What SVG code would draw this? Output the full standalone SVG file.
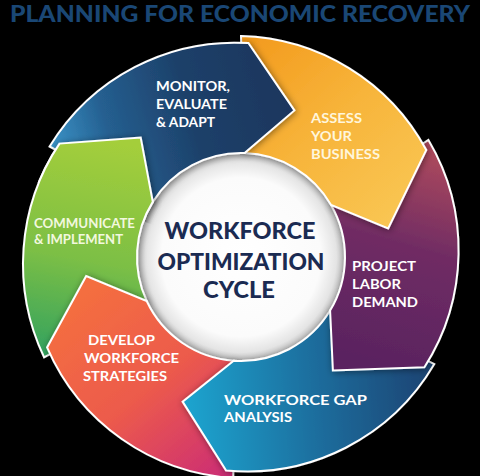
<svg xmlns="http://www.w3.org/2000/svg" xmlns:xlink="http://www.w3.org/1999/xlink" width="480" height="476" viewBox="0 0 480 476">
<defs>
<style>
.seg{stroke:#ffffff;stroke-width:2;stroke-linejoin:miter;filter:url(#sh)}
.lbl{font-family:Lato,"Open Sans","Liberation Sans",sans-serif;font-weight:700;font-size:14px;fill:#ffffff}
.ctr{font-family:Lato,"Open Sans","Liberation Sans",sans-serif;font-weight:900;font-size:23px;fill:#1b2b52;text-anchor:middle}
.ttl{font-family:Lato,"Open Sans","Liberation Sans",sans-serif;font-weight:900;font-size:22px;fill:#1a4775}
</style>
<filter id="sh" x="-20%" y="-20%" width="140%" height="140%">
<feDropShadow dx="1" dy="1" stdDeviation="3.5" flood-color="#000" flood-opacity="0.45"/>
</filter>
<linearGradient id="gNavy" gradientUnits="userSpaceOnUse" x1="55" y1="165" x2="290" y2="100">
<stop offset="0" stop-color="#3a94c8"/><stop offset="0.25" stop-color="#255f90"/><stop offset="0.6" stop-color="#1d4069"/><stop offset="1" stop-color="#1a365e"/>
</linearGradient>
<linearGradient id="gYellow" gradientUnits="userSpaceOnUse" x1="250" y1="40" x2="400" y2="210">
<stop offset="0" stop-color="#f39b1e"/><stop offset="0.5" stop-color="#f7b43a"/><stop offset="1" stop-color="#f9c552"/>
</linearGradient>
<linearGradient id="gPurple" gradientUnits="userSpaceOnUse" x1="430" y1="150" x2="370" y2="360">
<stop offset="0" stop-color="#ad4a5c"/><stop offset="0.45" stop-color="#702c64"/><stop offset="1" stop-color="#5a2360"/>
</linearGradient>
<linearGradient id="gTeal" gradientUnits="userSpaceOnUse" x1="430" y1="380" x2="190" y2="400">
<stop offset="0" stop-color="#1d4473"/><stop offset="0.5" stop-color="#1b6f9f"/><stop offset="1" stop-color="#1ea2cd"/>
</linearGradient>
<linearGradient id="gOrange" gradientUnits="userSpaceOnUse" x1="90" y1="290" x2="235" y2="468">
<stop offset="0" stop-color="#f46e40"/><stop offset="0.5" stop-color="#ec5a4c"/><stop offset="1" stop-color="#cc2d74"/>
</linearGradient>
<linearGradient id="gGreen" gradientUnits="userSpaceOnUse" x1="100" y1="140" x2="60" y2="355">
<stop offset="0" stop-color="#a4ce3b"/><stop offset="0.55" stop-color="#7cbf45"/><stop offset="1" stop-color="#35a35e"/>
</linearGradient>
<radialGradient id="gCenter" cx="241" cy="257" r="106" gradientUnits="userSpaceOnUse">
<stop offset="0" stop-color="#ffffff"/><stop offset="0.75" stop-color="#fbfbfb"/><stop offset="0.9" stop-color="#e4e4e4"/><stop offset="1" stop-color="#b8b8b8"/>
</radialGradient>
<clipPath id="greenHead">
<polygon points="241,257 -41,154 -41,-25 138,-25"/>
</clipPath>
</defs>
<rect x="0" y="0" width="480" height="476" fill="#000000"/>
<text class="ttl" x="10" y="22" textLength="460" lengthAdjust="spacingAndGlyphs">PLANNING FOR ECONOMIC RECOVERY</text>
<g id="center">
<circle cx="241" cy="257" r="106" fill="url(#gCenter)"/>
</g>
<g id="connectors"></g>
<g id="communicate">
<path id="greenShape" class="seg" fill="url(#gGreen)" d="M44.1,357.3 A217,217 0 0 1 59.5,143.6 L140.7,137.5 L152.8,201.9 A104,104 0 0 0 146.7,301 Z"/>
<text class="lbl" style="fill:#f2f8df"><tspan x="34" y="228" textLength="101" lengthAdjust="spacingAndGlyphs">COMMUNICATE</tspan><tspan x="34" y="244" textLength="89" lengthAdjust="spacingAndGlyphs">&amp; IMPLEMENT</tspan></text>
</g>
<g id="develop">
<path class="seg" fill="url(#gOrange)" d="M233.3,477.9 A217,217 0 0 1 47.1,347.4 L86.2,276 L146.7,301 A104,104 0 0 0 233.7,360.7 Z"/>
<text class="lbl"><tspan x="88" y="345" textLength="67" lengthAdjust="spacingAndGlyphs">DEVELOP</tspan><tspan x="84" y="363" textLength="95" lengthAdjust="spacingAndGlyphs">WORKFORCE</tspan><tspan x="83" y="381" textLength="84" lengthAdjust="spacingAndGlyphs">STRATEGIES</tspan></text>
</g>
<g id="gap">
<path class="seg" fill="url(#gTeal)" d="M434.3,364.1 A217,217 0 0 1 226.1,470.5 L182.6,401.6 L233.7,360.7 A104,104 0 0 0 330.1,310.6 Z"/>
<text class="lbl"><tspan x="224" y="405" textLength="143" lengthAdjust="spacingAndGlyphs">WORKFORCE GAP</tspan><tspan x="224" y="422" textLength="68" lengthAdjust="spacingAndGlyphs">ANALYSIS</tspan></text>
</g>
<g id="project">
<path class="seg" fill="url(#gPurple)" d="M428.4,139.9 A217,217 0 0 1 424.4,367.2 L332.9,370.5 L330.1,310.6 A104,104 0 0 0 331.1,205 Z"/>
<text class="lbl"><tspan x="352" y="271" textLength="64" lengthAdjust="spacingAndGlyphs">PROJECT</tspan><tspan x="352" y="289" textLength="49" lengthAdjust="spacingAndGlyphs">LABOR</tspan><tspan x="352" y="307" textLength="66" lengthAdjust="spacingAndGlyphs">DEMAND</tspan></text>
</g>
<g id="assess">
<path class="seg" fill="url(#gYellow)" d="M241,36 A217,217 0 0 1 426.3,150 L388.2,228.4 L331.1,205 A104,104 0 0 0 244.6,153.1 Z"/>
<text class="lbl" style="fill:#fff6dc"><tspan x="311" y="123" textLength="51" lengthAdjust="spacingAndGlyphs">ASSESS</tspan><tspan x="311" y="141" textLength="41" lengthAdjust="spacingAndGlyphs">YOUR</tspan><tspan x="311" y="159" textLength="69" lengthAdjust="spacingAndGlyphs">BUSINESS</tspan></text>
</g>
<g id="monitor">
<path class="seg" fill="url(#gNavy)" d="M49.6,146.5 A217,217 0 0 1 248.5,43.1 L294.4,110.4 L244.6,153.1 A104,104 0 0 0 152.8,201.9 Z"/>
<text class="lbl"><tspan x="156" y="91" textLength="74" lengthAdjust="spacingAndGlyphs">MONITOR,</tspan><tspan x="156" y="109" textLength="71" lengthAdjust="spacingAndGlyphs">EVALUATE</tspan><tspan x="156" y="127" textLength="59" lengthAdjust="spacingAndGlyphs">&amp; ADAPT</tspan></text>
</g>
<g id="communicate-head">
<use xlink:href="#greenShape" href="#greenShape" clip-path="url(#greenHead)"/>
</g>
<g id="center-label">
<text class="ctr"><tspan x="240" y="239" textLength="151" lengthAdjust="spacingAndGlyphs">WORKFORCE</tspan><tspan x="241" y="270" textLength="167" lengthAdjust="spacingAndGlyphs">OPTIMIZATION</tspan><tspan x="239" y="298" textLength="72" lengthAdjust="spacingAndGlyphs">CYCLE</tspan></text>
</g>
</svg>
